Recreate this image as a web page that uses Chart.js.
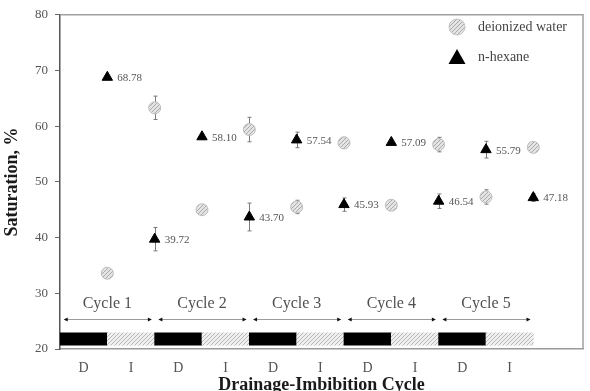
<!DOCTYPE html>
<html>
<head>
<meta charset="utf-8">
<script src="https://cdn.jsdelivr.net/npm/chart.js@4/dist/chart.umd.min.js"></script>
<style>
  html, body { margin: 0; padding: 0; background: #fff; }
  #wrap { width: 590px; height: 391px; }
</style>
</head>
<body>
<div id="wrap"><canvas id="satChart" width="590" height="391"></canvas></div>
<script>
// stage positions along the drainage/imbibition axis
const stages = [1, 2, 3, 4, 5, 6, 7, 8, 9, 10];
const waterSat = [33.6, 63.3, 45.0, 59.4, 45.5, 57.0, 45.8, 56.7, 47.3, 56.2];
const waterErr = [0.4, 2.1, 0.4, 2.2, 1.2, 1.0, 0.5, 1.3, 1.3, 0.5];
const hexaneSat = [68.78, 39.72, 58.10, 43.70, 57.54, 45.93, 57.09, 46.54, 55.79, 47.18];
const hexaneErr = [0.3, 2.1, 0.5, 2.5, 1.4, 1.2, 0.4, 1.3, 1.5, 0.7];
const phases = ["D", "I", "D", "I", "D", "I", "D", "I", "D", "I"];
const cycles = ["Cycle 1", "Cycle 2", "Cycle 3", "Cycle 4", "Cycle 5"];
const yTicks = [20, 30, 40, 50, 60, 70, 80];

const serif = "'Liberation Serif', 'Times New Roman', serif";
const band = [20.7, 22.9];   // phase strip along the bottom
const arrowLevel = 25.4;
const cycleTextLevel = 28.2;

const canvas = document.getElementById("satChart");
const ctx = canvas.getContext("2d");

function hatch(bg, fg, size) {
	const c = document.createElement("canvas");
	c.width = size;
	c.height = size;
	const g = c.getContext("2d");
	g.fillStyle = bg;
	g.fillRect(0, 0, size, size);
	g.strokeStyle = fg;
	g.lineWidth = 1;
	g.beginPath();
	g.moveTo(0, size);
	g.lineTo(size, 0);
	g.moveTo(-1, 1);
	g.lineTo(1, -1);
	g.moveTo(size - 1, size + 1);
	g.lineTo(size + 1, size - 1);
	g.stroke();
	return ctx.createPattern(c, "repeat");
}

const barHatch = hatch("#efefef", "#b8b8b8", 4);
const dotHatch = hatch("#e4e4e4", "#a9a9a9", 4);

// error bars drawn under the markers
const errorBars = {
	id: "errorBars",
	beforeDatasetsDraw(chart) {
		const { ctx, scales: { x, y } } = chart;
		ctx.save();
		ctx.strokeStyle = "#7a7a7a";
		ctx.lineWidth = 1;
		[[waterSat, waterErr], [hexaneSat, hexaneErr]].forEach(([vals, errs]) => {
			stages.forEach((s, i) => {
				const px = Math.round(x.getPixelForValue(s)) + 0.5;
				const top = y.getPixelForValue(vals[i] + errs[i]);
				const bot = y.getPixelForValue(vals[i] - errs[i]);
				ctx.beginPath();
				ctx.moveTo(px, top);
				ctx.lineTo(px, bot);
				ctx.moveTo(px - 2, top);
				ctx.lineTo(px + 2, top);
				ctx.moveTo(px - 2, bot);
				ctx.lineTo(px + 2, bot);
				ctx.stroke();
			});
		});
		ctx.restore();
	},
};

// frame, value labels, cycle arrows, legend
const extras = {
	id: "extras",
	afterDatasetsDraw(chart) {
		const { ctx, chartArea: a, scales: { x, y } } = chart;
		ctx.save();

		ctx.strokeStyle = "#a0a0a0";
		ctx.lineWidth = 1.5;
		ctx.beginPath();
		ctx.moveTo(a.left, a.top);
		ctx.lineTo(a.right, a.top);
		ctx.lineTo(a.right, a.bottom);
		ctx.stroke();

		ctx.fillStyle = "#555";
		ctx.font = "11px " + serif;
		ctx.textBaseline = "middle";
		ctx.textAlign = "left";
		stages.forEach((s, i) => {
			ctx.fillText(hexaneSat[i].toFixed(2), x.getPixelForValue(s) + 10, y.getPixelForValue(hexaneSat[i]) + 1);
		});

		const ay = Math.round(y.getPixelForValue(arrowLevel)) + 0.5;
		cycles.forEach((label, k) => {
			const x0 = x.getPixelForValue(2 * k + 0.1);
			const x1 = x.getPixelForValue(2 * k + 1.92);
			ctx.strokeStyle = "#9a9a9a";
			ctx.lineWidth = 1;
			ctx.beginPath();
			ctx.moveTo(x0, ay);
			ctx.lineTo(x1, ay);
			ctx.stroke();
			ctx.fillStyle = "#111";
			ctx.beginPath();
			ctx.moveTo(x0 - 1, ay);
			ctx.lineTo(x0 + 3, ay - 2);
			ctx.lineTo(x0 + 3, ay + 2);
			ctx.closePath();
			ctx.moveTo(x1 + 1, ay);
			ctx.lineTo(x1 - 3, ay - 2);
			ctx.lineTo(x1 - 3, ay + 2);
			ctx.closePath();
			ctx.fill();

			ctx.fillStyle = "#505050";
			ctx.font = "16px " + serif;
			ctx.textAlign = "center";
			ctx.fillText(label, x.getPixelForValue(2 * k + 1), y.getPixelForValue(cycleTextLevel));
		});

		// legend
		const lx = 457;
		ctx.textAlign = "left";
		ctx.font = "14px " + serif;
		ctx.beginPath();
		ctx.arc(lx, 27, 8, 0, Math.PI * 2);
		ctx.fillStyle = dotHatch;
		ctx.fill();
		ctx.strokeStyle = "#c4c4c4";
		ctx.lineWidth = 1;
		ctx.stroke();
		ctx.fillStyle = "#444";
		ctx.fillText(chart.data.datasets[0].label, lx + 21, 27);

		ctx.fillStyle = "#000";
		ctx.beginPath();
		ctx.moveTo(lx, 49);
		ctx.lineTo(lx + 8.5, 64);
		ctx.lineTo(lx - 8.5, 64);
		ctx.closePath();
		ctx.fill();
		ctx.fillStyle = "#444";
		ctx.fillText(chart.data.datasets[1].label, lx + 21, 57);

		ctx.restore();
	},
};

new Chart(ctx, {
	type: "scatter",
	data: {
		datasets: [
			{
				label: "deionized water",
				data: stages.map((s, i) => ({ x: s, y: waterSat[i] })),
				pointStyle: "circle",
				pointRadius: 6,
				pointBackgroundColor: dotHatch,
				pointBorderColor: "#bdbdbd",
				pointBorderWidth: 1,
			},
			{
				label: "n-hexane",
				data: stages.map((s, i) => ({ x: s, y: hexaneSat[i] })),
				pointStyle: "triangle",
				pointRadius: 6,
				pointBackgroundColor: "#000",
				pointBorderColor: "#000",
				pointBorderWidth: 1,
			},
			{
				type: "bar",
				label: "phase",
				data: phases.map((p, i) => ({ x: i + 0.5, y: band })),
				backgroundColor: phases.map((p) => (p === "D" ? "#000" : barHatch)),
				barPercentage: 1,
				categoryPercentage: 1,
				borderWidth: 0,
			},
		],
	},
	options: {
		responsive: false,
		animation: false,
		layout: { padding: { top: 5, right: 3, left: 0, bottom: 0 } },
		plugins: {
			legend: { display: false },
			tooltip: { enabled: false },
		},
		scales: {
			x: {
				type: "linear",
				min: 0,
				max: 11.05,
				offset: false,
				afterFit: (scale) => { scale.height = 42; },
				afterBuildTicks: (scale) => {
					scale.ticks = phases.map((p, i) => ({ value: i + 0.5 }));
				},
				grid: { display: false, offset: false },
				border: { display: true, color: "#9a9a9a", width: 1.5 },
				ticks: {
					autoSkip: false,
					maxRotation: 0,
					padding: 3,
					color: "#555",
					font: { family: serif, size: 14 },
					callback: (v, i) => phases[i],
				},
				title: {
					display: true,
					text: "Drainage-Imbibition Cycle",
					color: "#1a1a1a",
					font: { family: serif, size: 18, weight: "bold" },
					padding: { top: 0, bottom: -5 },
				},
			},
			y: {
				min: 20,
				max: 80,
				afterFit: (scale) => { scale.width = 60; },
				afterBuildTicks: (scale) => {
					scale.ticks = yTicks.map((v) => ({ value: v }));
				},
				grid: { drawOnChartArea: false, drawTicks: true, tickLength: 5, color: "#666" },
				border: { display: true, color: "#555", width: 1.5 },
				ticks: {
					padding: 7,
					color: "#555",
					font: { family: serif, size: 13 },
				},
				title: {
					display: true,
					text: "Saturation, %",
					color: "#1a1a1a",
					font: { family: serif, size: 18, weight: "bold" },
					padding: { top: 2, bottom: 0 },
				},
			},
		},
	},
	plugins: [errorBars, extras],
});
</script>
</body>
</html>
